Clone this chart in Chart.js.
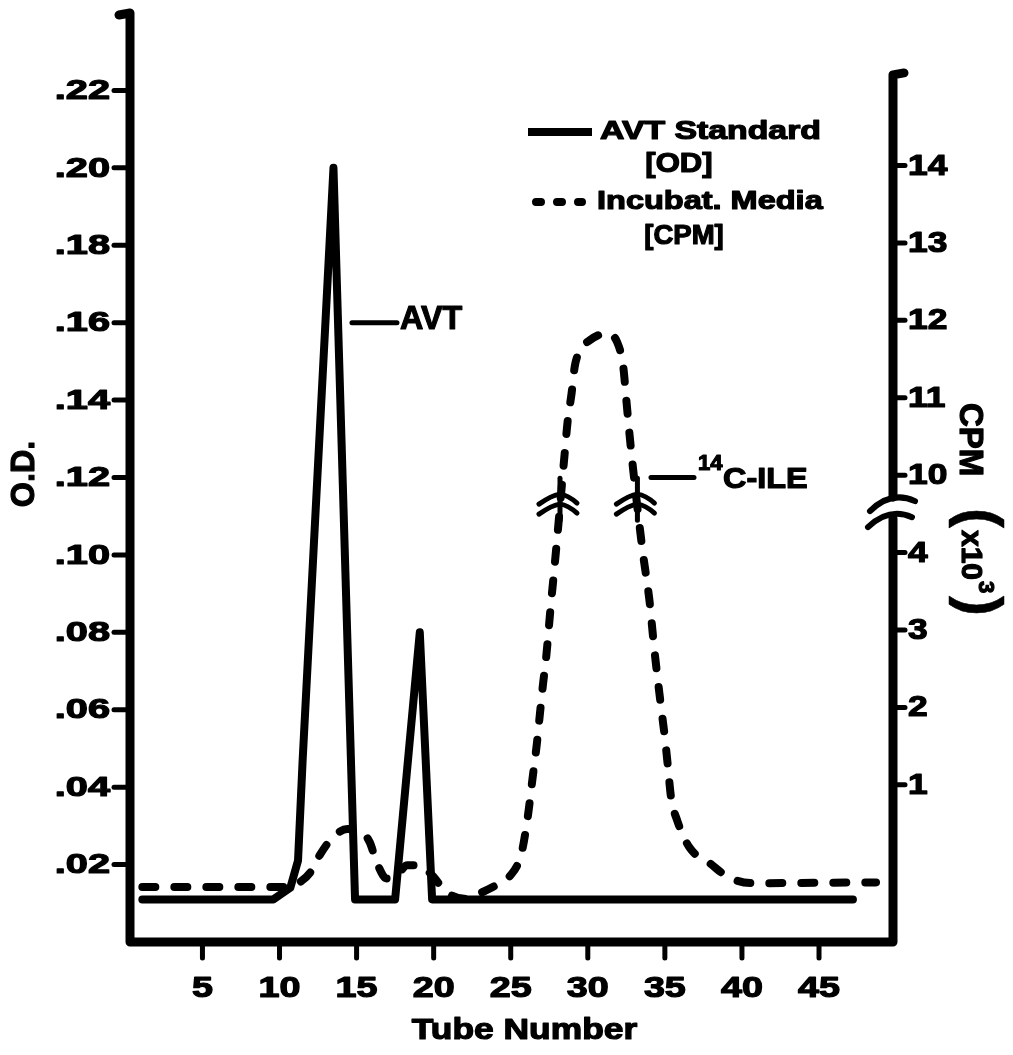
<!DOCTYPE html>
<html>
<head>
<meta charset="utf-8">
<title>AVT Standard / Incubation Media</title>
<script src="https://cdn.jsdelivr.net/npm/chart.js@4.4.1/dist/chart.umd.min.js"></script>
<style>
  html, body { margin: 0; padding: 0; background: #fff; }
  canvas { display: block; }
</style>
</head>
<body>
<canvas id="chart" width="1013" height="1055"></canvas>
<script>
// Elution profile: AVT standard (O.D.) against incubation media (CPM x10^3)

// AVT standard, optical density per tube
const avtTubes = [1.1, 9.6, 10.7, 11.2, 11.5, 13.5, 14.9, 17.5, 19.1, 19.9, 47.2];
const avtOD = [0.011, 0.011, 0.014, 0.021, 0.047, 0.20, 0.011, 0.011, 0.08, 0.011, 0.011];

// incubation media, counts per minute (x10^3)
const mediaTubes = [
  1.1, 10.7, 11.3, 12.0, 12.6, 13.45, 14.4, 15.2, 15.85, 16.3, 16.95, 17.5,
  18.3, 19.1, 19.9, 20.85, 22.0, 23.0, 24.2, 24.9, 25.7, 26.1, 26.4, 26.7,
  26.9, 27.1, 27.3, 27.6, 27.8, 28.0, 28.5, 28.7, 28.95, 29.15, 29.5, 30.1,
  31.2, 31.9, 32.3, 32.5, 32.7, 32.9, 33.55, 34.0, 34.3, 34.7, 35.0, 35.2,
  35.4, 35.8, 36.6, 37.9, 39.1, 40.7, 48.7,
];
const mediaCPM = [
  -0.32, -0.32, -0.26, -0.13, 0.09, 0.32, 0.43, 0.41, 0.26, 0.0, -0.21, -0.19,
  -0.04, -0.04, -0.17, -0.39, -0.47, -0.40, -0.28, -0.19, 0.12, 0.58, 1.06, 1.54,
  1.93, 2.31, 2.65, 3.32, 3.73, 4.16, 10.28, 10.71, 11.06, 11.40, 11.61, 11.74,
  11.83, 11.72, 11.40, 10.97, 10.54, 10.15, 4.03, 3.38, 2.78, 2.09, 1.61, 1.23,
  0.84, 0.54, 0.19, -0.01, -0.19, -0.27, -0.26,
];

const tubeTicks = [5, 10, 15, 20, 25, 30, 35, 40, 45];
const odTicks = [0.02, 0.04, 0.06, 0.08, 0.10, 0.12, 0.14, 0.16, 0.18, 0.20, 0.22];
const odTickLabels = [".02", ".04", ".06", ".08", ".10", ".12", ".14", ".16", ".18", ".20", ".22"];
const cpmTicks = [1, 2, 3, 4, 10, 11, 12, 13, 14];

// the CPM axis is broken: everything above the break is shifted down by CPM_GAP
const CPM_BREAK = 4.6;
const CPM_GAP = 5;
const CPM_AXIS_TOP = 15.17;

function cpmToAxis(v) {
  return v > CPM_BREAK ? v - CPM_GAP : v;
}

const FONT = '"Liberation Sans", Arial, Helvetica, sans-serif';

// heavy lettering, optionally stretched along the text and rotated
function letter(ctx, str, x, y, size, opts = {}) {
  ctx.save();
  ctx.translate(x, y);
  if (opts.rotate) ctx.rotate(opts.rotate);
  ctx.scale(opts.sx || 1, 1);
  ctx.font = `bold ${size}px ${FONT}`;
  ctx.textAlign = opts.align || "left";
  ctx.textBaseline = "middle";
  ctx.lineWidth = opts.heavy === undefined ? 1.2 : opts.heavy;
  ctx.lineJoin = "round";
  ctx.fillText(str, 0, 0);
  if (ctx.lineWidth > 0) ctx.strokeText(str, 0, 0);
  ctx.restore();
}

function seg(ctx, x1, y1, x2, y2, w) {
  ctx.lineWidth = w;
  ctx.beginPath();
  ctx.moveTo(x1, y1);
  ctx.lineTo(x2, y2);
  ctx.stroke();
}

// tube positions where the media curve passes through the axis break
function breakCrossings() {
  const out = [];
  for (let i = 0; i < mediaTubes.length - 1; i++) {
    const a = cpmToAxis(mediaCPM[i]);
    const b = cpmToAxis(mediaCPM[i + 1]);
    if ((a - CPM_BREAK) * (b - CPM_BREAK) < 0) {
      const t = (CPM_BREAK - a) / (b - a);
      out.push(mediaTubes[i] + t * (mediaTubes[i + 1] - mediaTubes[i]));
    }
  }
  return out;
}

function drawChevrons(ctx, x, y) {
  ctx.lineWidth = 5;
  [-12, -2].forEach((dy) => {
    ctx.beginPath();
    ctx.moveTo(x - 21, y + dy + 10);
    ctx.quadraticCurveTo(x - 8, y + dy + 1, x, y + dy);
    ctx.quadraticCurveTo(x + 8, y + dy + 1, x + 17, y + dy + 9);
    ctx.stroke();
  });
  seg(ctx, x, y - 28, x, y + 14, 5);
}

const figurePlugin = {
  id: "figure",
  afterDatasetsDraw(chart) {
    const { ctx, chartArea: area, scales } = chart;
    const xs = scales.x;
    const ys = scales.y;
    const y2 = scales.y2;
    const breakY = y2.getPixelForValue(CPM_BREAK);
    const rightTop = y2.getPixelForValue(cpmToAxis(CPM_AXIS_TOP));

    ctx.save();
    ctx.strokeStyle = "#000";
    ctx.fillStyle = "#000";
    ctx.lineCap = "round";
    ctx.lineJoin = "round";

    // frame: left axis, tube axis, broken right axis
    ctx.lineWidth = 9;
    ctx.beginPath();
    ctx.moveTo(area.left - 11, area.top + 2);
    ctx.lineTo(area.left, area.top);
    ctx.lineTo(area.left, area.bottom);
    ctx.lineTo(area.right, area.bottom);
    ctx.lineTo(area.right, breakY + 12);
    ctx.stroke();
    ctx.beginPath();
    ctx.moveTo(area.right, breakY - 9);
    ctx.lineTo(area.right, rightTop);
    ctx.lineTo(area.right + 11, rightTop - 2);
    ctx.stroke();

    ctx.lineWidth = 6;
    ctx.beginPath();
    ctx.moveTo(area.right - 23, breakY + 5);
    ctx.quadraticCurveTo(area.right - 2, breakY - 16, area.right + 22, breakY - 5);
    ctx.stroke();
    ctx.beginPath();
    ctx.moveTo(area.right - 25, breakY + 21);
    ctx.quadraticCurveTo(area.right - 4, breakY + 1, area.right + 19, breakY + 11);
    ctx.stroke();

    // O.D. ticks
    odTicks.forEach((v, i) => {
      const y = ys.getPixelForValue(v);
      seg(ctx, area.left - 16, y, area.left, y, 5);
      letter(ctx, odTickLabels[i], area.left - 20, y + 1, 28, { align: "right", sx: 1.42 });
    });

    // CPM ticks
    cpmTicks.forEach((v) => {
      const y = y2.getPixelForValue(cpmToAxis(v));
      seg(ctx, area.right, y, area.right + 12, y, 5);
      letter(ctx, String(v), area.right + 15, y + 1, 29, { sx: 1.22 });
    });

    // tube ticks
    tubeTicks.forEach((t) => {
      const x = xs.getPixelForValue(t);
      seg(ctx, x, area.bottom, x, area.bottom + 16, 5);
      letter(ctx, String(t), x, area.bottom + 47, 29, { align: "center", sx: 1.3 });
    });

    // axis titles
    letter(ctx, "Tube Number", (area.left + area.right) / 2 + 13, area.bottom + 89, 29, { align: "center", sx: 1.22 });
    letter(ctx, "O.D.", 25, 474, 34, { align: "center", sx: 0.95, rotate: -Math.PI / 2 });
    const rot = { rotate: Math.PI / 2 };
    letter(ctx, "CPM", 969, 403, 33, rot);
    letter(ctx, "(", 978, 508, 60, { rotate: Math.PI / 2, heavy: 0.5 });
    letter(ctx, "x10", 970, 530, 30, rot);
    letter(ctx, "3", 985, 581, 22, rot);
    letter(ctx, ")", 978, 596, 60, { rotate: Math.PI / 2, heavy: 0.5 });

    // break markers on the media curve
    breakCrossings().forEach((t) => drawChevrons(ctx, xs.getPixelForValue(t), breakY));

    // peak labels
    const avtX = xs.getPixelForValue(14.7);
    const avtY = ys.getPixelForValue(0.16);
    seg(ctx, avtX, avtY, avtX + 45, avtY, 5);
    letter(ctx, "AVT", avtX + 48, avtY - 3, 34, { sx: 0.95 });

    const ileX = xs.getPixelForValue(34.1);
    const ileY = ys.getPixelForValue(0.12);
    seg(ctx, ileX, ileY, ileX + 43, ileY, 5);
    letter(ctx, "14", ileX + 47, ileY - 14, 22);
    letter(ctx, "C-ILE", ileX + 72, ileY + 2, 30, { sx: 1.08 });

    // legend
    const avtSet = chart.data.datasets[0];
    const mediaSet = chart.data.datasets[1];
    ctx.lineCap = "butt";
    seg(ctx, 528, 132, 592, 132, avtSet.borderWidth);
    letter(ctx, "AVT Standard", 600, 132, 26, { sx: 1.3 });
    letter(ctx, "[OD]", 679, 165, 27, { align: "center", sx: 1.15 });
    ctx.lineCap = "round";
    ctx.setLineDash([5, 16]);
    seg(ctx, 536, 202, 582, 202, mediaSet.borderWidth);
    ctx.setLineDash([]);
    letter(ctx, "Incubat. Media", 597, 202, 26, { sx: 1.25 });
    letter(ctx, "[CPM]", 684, 237, 27, { align: "center", sx: 1.02 });

    ctx.restore();
  },
};

new Chart(document.getElementById("chart"), {
  type: "scatter",
  data: {
    datasets: [
      {
        label: "AVT Standard [OD]",
        data: avtTubes.map((t, i) => ({ x: t, y: avtOD[i] })),
        yAxisID: "y",
        showLine: true,
        borderColor: "#000",
        borderWidth: 8,
        borderJoinStyle: "round",
        borderCapStyle: "round",
        pointRadius: 0,
        tension: 0,
      },
      {
        label: "Incubat. Media [CPM]",
        data: mediaTubes.map((t, i) => ({ x: t, y: cpmToAxis(mediaCPM[i]) })),
        yAxisID: "y2",
        showLine: true,
        borderColor: "#000",
        borderWidth: 8,
        borderDash: [13, 19],
        borderCapStyle: "round",
        borderJoinStyle: "round",
        cubicInterpolationMode: "monotone",
        pointRadius: 0,
      },
    ],
  },
  options: {
    responsive: false,
    animation: false,
    layout: { padding: { left: 130, right: 120, top: 13, bottom: 113 } },
    plugins: { legend: { display: false }, tooltip: { enabled: false } },
    scales: {
      x: { type: "linear", min: 0.3, max: 49.8, display: false },
      y: { min: 0, max: 0.24, display: false },
      y2: { position: "right", min: -1.03, max: 10.97, display: false },
    },
  },
  plugins: [figurePlugin],
});
</script>
</body>
</html>
